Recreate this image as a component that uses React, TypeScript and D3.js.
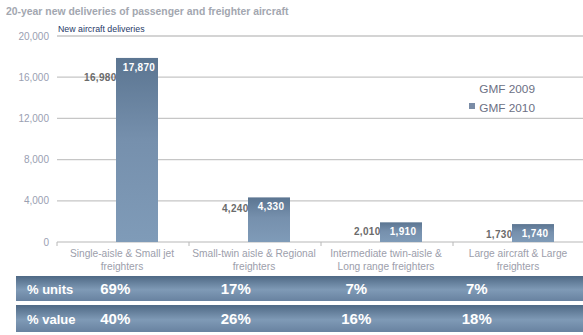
import React from "react";
import * as d3 from "d3";

const title = "20-year new deliveries of passenger and freighter aircraft";
const axisTitle = "New aircraft deliveries";
const categories: string[][] = [
  ["Single-aisle & Small jet", "freighters"],
  ["Small-twin aisle & Regional", "freighters"],
  ["Intermediate twin-aisle &", "Long range freighters"],
  ["Large aircraft & Large", "freighters"],
];
const series = ["GMF 2009", "GMF 2010"];
const gmf2009 = [16980, 4240, 2010, 1730];
const gmf2010 = [17870, 4330, 1910, 1740];
const yTicks = [0, 4000, 8000, 12000, 16000, 20000];
const rowLabels = ["% units", "% value"];
const unitsPct = ["69%", "17%", "7%", "7%"];
const valuePct = ["40%", "26%", "16%", "18%"];

const W = 583;
const H = 335;
const FONT = "'Liberation Sans', Arial, sans-serif";

export default function App() {
  const y = d3.scaleLinear().domain([0, 20000]).range([242, 36]);
  const x0 = d3.scaleBand<number>().domain([0, 1, 2, 3]).range([57, 585]);
  const x1 = d3.scaleBand<string>().domain(series).range([0, 84]);
  const groupX = (i: number) => (x0(i) as number) + x0.bandwidth() / 2 - 49;
  const tx = d3.scaleBand<number>().domain([0, 1, 2, 3]).range([55, 537]);
  const fmt = d3.format(",");
  const rows = [unitsPct, valuePct];
  const rowY = [276, 305];
  const rowH = [25, 27];

  return (
    <svg width={W} height={H} style={{ position: "absolute", left: 0, top: 0, background: "#fff" }} fontFamily={FONT}>
      <defs>
        <linearGradient id="barG" x1="0" y1="0" x2="0" y2="1">
          <stop offset="0%" stopColor="#5b7591" />
          <stop offset="45%" stopColor="#7690ad" />
          <stop offset="100%" stopColor="#7f9bb8" />
        </linearGradient>
        <linearGradient id="rowG" x1="0" y1="0" x2="0" y2="1">
          <stop offset="0%" stopColor="#4f6985" />
          <stop offset="55%" stopColor="#7f9ab6" />
          <stop offset="100%" stopColor="#6882a0" />
        </linearGradient>
      </defs>
      <text x={6} y={15} fontSize={10.4} fontWeight="bold" fill="#a3a7b0">{title}</text>
      {yTicks.map((t) => (
        <g key={t}>
          {t > 0 && <line x1={57} x2={583} y1={y(t)} y2={y(t)} stroke="#c6c6c6" strokeWidth={1.3} />}
          <text x={49} y={y(t) + 3.5} fontSize={10} textAnchor="end" fill="#9aa0b2">{fmt(t)}</text>
        </g>
      ))}
      <text x={58} y={32} fontSize={8.8} fill="#1f3a68">{axisTitle}</text>
      <line x1={57} x2={583} y1={242} y2={242} stroke="#b8b8b8" strokeWidth={1.2} />
      {[0, 1, 2, 3].map((i) => (
        <line key={i} x1={x0(i) as number} x2={x0(i) as number} y1={242} y2={246} stroke="#b8b8b8" />
      ))}
      {gmf2010.map((v, i) => {
        const bx = groupX(i) + (x1("GMF 2010") as number);
        return (
          <rect key={i} x={bx} y={y(v)} width={x1.bandwidth()} height={242 - y(v)} fill="url(#barG)" />
        );
      })}
      {gmf2009.map((v, i) => {
        const bx = groupX(i) + (x1("GMF 2009") as number);
        return (
          <text key={i} x={bx + x1.bandwidth() + 0.5} y={y(v) + 13.5} fontSize={10} fontWeight="bold" textAnchor="end" fill="#6b6b6b" letterSpacing={0.3}>{fmt(v)}</text>
        );
      })}
      {gmf2010.map((v, i) => {
        const bx = groupX(i) + (x1("GMF 2010") as number);
        return (
          <text key={i} x={bx + x1.bandwidth() / 2 + 2} y={y(v) + 13} fontSize={10} fontWeight="bold" textAnchor="middle" fill="#ffffff" letterSpacing={0.3}>{fmt(v)}</text>
        );
      })}
      {categories.map((c, i) => {
        const cx = (x0(i) as number) + x0.bandwidth() / 2 - 1;
        return (
          <text key={i} x={cx} fontSize={10.2} textAnchor="middle" fill="#9c9eab">
            <tspan x={cx} y={257}>{c[0]}</tspan>
            <tspan x={cx} y={270}>{c[1]}</tspan>
          </text>
        );
      })}
      <text x={535} y={93} fontSize={11.8} textAnchor="end" fill="#6c7084">{series[0]}</text>
      <rect x={469} y={103} width={6} height={6} fill="#7a8ca6" />
      <text x={535} y={112} fontSize={11.8} textAnchor="end" fill="#6c7084">{series[1]}</text>
      {rows.map((r, ri) => (
        <g key={ri}>
          <rect x={16} y={rowY[ri]} width={567} height={rowH[ri]} fill="url(#rowG)" />
          <text x={27} y={rowY[ri] + rowH[ri] / 2 + 5} fontSize={13} fontWeight="bold" fill="#fff">{rowLabels[ri]}</text>
          {r.map((p, i) => (
            <text key={i} x={(tx(i) as number) + tx.bandwidth() / 2} y={rowY[ri] + rowH[ri] / 2 + 5.5} fontSize={15} fontWeight="bold" textAnchor="middle" fill="#fff">{p}</text>
          ))}
        </g>
      ))}
    </svg>
  );
}
